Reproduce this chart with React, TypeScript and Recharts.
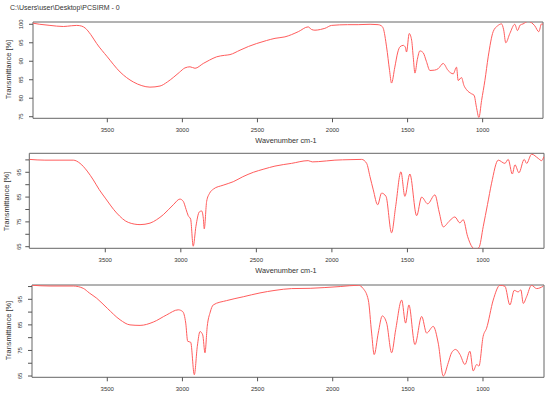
import React from 'react';
import { LineChart, Line, XAxis, YAxis, ReferenceArea } from 'recharts';

const FONT = '"Liberation Sans", Arial, Helvetica, sans-serif';

// Panel 1 (top spectrum)
const waveP1 = [3995, 3950, 3882, 3793, 3740, 3704, 3670, 3648, 3610, 3571, 3500, 3415, 3327, 3270, 3216, 3149, 3100, 3061, 3020, 2983, 2949, 2916, 2861, 2820, 2772, 2720, 2683, 2616, 2560, 2505, 2440, 2383, 2317, 2228, 2162, 2140, 2117, 2080, 2051, 2006, 1900, 1829, 1750, 1696, 1675, 1662, 1640, 1620, 1607, 1585, 1565, 1551, 1529, 1515, 1507, 1489, 1473, 1462, 1451, 1435, 1418, 1396, 1375, 1351, 1320, 1296, 1263, 1230, 1196, 1174, 1163, 1141, 1125, 1107, 1074, 1057, 1041, 1025, 1007, 985, 963, 930, 900, 874, 860, 846, 819, 786, 768, 750, 731, 697, 653, 626, 608, 598];
const transP1 = [100.3, 100.0, 99.7, 99.4, 99.6, 99.7, 99.5, 99.0, 97.2, 94.8, 91.2, 87.1, 84.4, 83.4, 83.0, 83.3, 84.4, 85.6, 87.0, 88.2, 88.5, 88.1, 89.4, 90.3, 91.2, 91.6, 91.8, 93.0, 94.0, 94.8, 95.6, 96.2, 96.6, 98.0, 99.3, 98.6, 98.4, 98.6, 98.9, 99.7, 99.9, 99.9, 100.0, 99.9, 99.6, 98.9, 93.9, 87.5, 84.1, 88.4, 92.5, 93.9, 94.3, 93.8, 92.5, 97.5, 95.7, 91.0, 86.8, 90.5, 92.8, 92.3, 90.0, 87.5, 87.6, 88.0, 89.4, 87.5, 86.6, 88.4, 84.8, 85.6, 83.5, 82.3, 81.2, 80.8, 77.5, 74.8, 79.4, 84.8, 91.2, 98.0, 99.6, 100.1, 98.5, 95.0, 97.5, 100.0, 98.3, 99.8, 100.1, 100.8, 99.6, 98.0, 100.1, 100.0];

// Panel 2 (middle spectrum)
const waveP2 = [4003, 3900, 3800, 3712, 3667, 3620, 3579, 3540, 3500, 3425, 3348, 3270, 3204, 3160, 3116, 3050, 3006, 2984, 2965, 2951, 2935, 2918, 2900, 2878, 2862, 2851, 2845, 2829, 2810, 2785, 2720, 2653, 2590, 2520, 2450, 2377, 2267, 2157, 2130, 2090, 1980, 1880, 1803, 1770, 1748, 1726, 1697, 1671, 1642, 1605, 1578, 1543, 1517, 1484, 1439, 1406, 1366, 1318, 1290, 1263, 1220, 1186, 1153, 1131, 1102, 1071, 1050, 1027, 998, 970, 943, 899, 855, 833, 806, 788, 762, 727, 711, 678, 634, 612, 597];
const transP2 = [100.2, 99.9, 99.9, 99.9, 98.6, 95.5, 91.9, 88.0, 84.6, 78.6, 74.8, 73.9, 74.5, 75.9, 77.9, 81.9, 84.2, 83.3, 80.0, 77.5, 76.1, 65.2, 73.2, 79.0, 79.4, 76.4, 72.2, 83.3, 86.5, 88.2, 89.8, 91.2, 93.2, 95.0, 96.3, 97.5, 98.6, 99.7, 99.2, 99.3, 99.9, 100.1, 100.2, 98.6, 93.3, 87.9, 81.9, 86.6, 85.3, 70.6, 81.2, 95.2, 85.3, 94.3, 77.5, 85.0, 82.3, 85.9, 79.0, 73.0, 75.5, 77.0, 74.6, 75.9, 69.2, 64.8, 64.0, 64.6, 73.2, 82.0, 90.6, 99.9, 98.6, 100.2, 94.3, 98.0, 94.8, 100.2, 98.6, 102.3, 100.6, 99.7, 101.3];

// Panel 3 (bottom spectrum)
const waveP3 = [4001, 3881, 3726, 3660, 3620, 3570, 3500, 3415, 3349, 3282, 3194, 3105, 3028, 2998, 2978, 2965, 2945, 2921, 2901, 2883, 2865, 2850, 2835, 2815, 2795, 2706, 2595, 2484, 2384, 2273, 2150, 2052, 1950, 1830, 1797, 1763, 1741, 1724, 1697, 1670, 1641, 1608, 1581, 1541, 1515, 1493, 1453, 1408, 1375, 1331, 1298, 1264, 1231, 1209, 1182, 1153, 1120, 1087, 1065, 1042, 1027, 999, 976, 932, 887, 854, 821, 792, 766, 748, 732, 710, 677, 643, 599];
const transP3 = [100.5, 100.2, 100.2, 99.3, 97.5, 95.4, 91.5, 87.0, 85.0, 84.8, 86.1, 88.9, 90.9, 90.2, 85.7, 78.6, 78.2, 65.5, 76.6, 82.4, 81.1, 74.1, 84.4, 90.0, 92.8, 94.5, 96.0, 97.5, 98.5, 99.2, 99.3, 99.6, 100.0, 100.5, 99.2, 94.7, 81.8, 73.4, 81.8, 88.5, 85.7, 74.1, 83.1, 94.7, 85.7, 92.8, 77.3, 88.3, 81.8, 84.4, 77.9, 65.0, 70.2, 74.1, 75.4, 73.4, 69.5, 74.7, 67.0, 69.5, 68.9, 80.5, 83.7, 94.7, 100.5, 100.1, 92.8, 98.5, 97.9, 98.7, 93.4, 96.0, 100.5, 99.2, 100.1];

const xTicks = [3500, 3000, 2500, 2000, 1500, 1000];
const yTicksP1 = [75, 80, 85, 90, 95, 100];
const yTicksP23 = [65, 70, 75, 80, 85, 90, 95, 100];
const yLabelsP23 = [65, 75, 85, 95];

const headerText = 'C:\\Users\\user\\Desktop\\PCSIRM - 0';
const xTitle = 'Wavenumber cm-1';
const yTitle = 'Transmittance [%]';

const LINE_COLOR = '#ff5c5c';
const BOX_COLOR = '#666666';
const TEXT_COLOR = '#333333';

function makeRows(w: number[], t: number[]) {
  return w.map((x, i) => ({ w: x, t: t[i] }));
}

const XTick = (props: any) => {
  const { x, y, payload } = props;
  return (
    <text x={x} y={y + 10} textAnchor="middle" fontSize={6} fill={TEXT_COLOR} fontFamily={FONT}>
      {payload.value}
    </text>
  );
};

const makeYTick = (labels: number[] | null, offset: number) => (props: any) => {
  const { x, y, payload } = props;
  if (labels && !labels.includes(payload.value)) return <g />;
  const bx = x - offset;
  return (
    <text
      x={bx}
      y={y}
      transform={`rotate(-90 ${bx} ${y})`}
      textAnchor="middle"
      fontSize={6}
      fill={TEXT_COLOR}
      fontFamily={FONT}
    >
      {payload.value}
    </text>
  );
};

type PanelProps = {
  top: number;
  height: number;
  rows: { w: number; t: number }[];
  xDomain: [number, number];
  yDomain: [number, number];
  yTicks: number[];
  yLabels: number[] | null;
  marginTop: number;
  marginRight: number;
  yWidth: number;
  xHeight: number;
  yLabelOffset: number;
};

function Panel(p: PanelProps) {
  return (
    <div style={{ position: 'absolute', left: 0, top: p.top, width: 550, height: p.height }}>
      <LineChart
        width={550}
        height={p.height}
        data={p.rows}
        margin={{ top: p.marginTop, right: p.marginRight, bottom: 0, left: 0 }}
      >
        <XAxis
          dataKey="w"
          type="number"
          domain={p.xDomain}
          reversed
          allowDataOverflow
          ticks={xTicks}
          interval={0}
          height={p.xHeight}
          tickSize={4}
          tickMargin={0}
          axisLine={false}
          tickLine={{ stroke: '#555555' }}
          tick={XTick}
        />
        <YAxis
          type="number"
          domain={p.yDomain}
          allowDataOverflow
          ticks={p.yTicks}
          interval={0}
          width={p.yWidth}
          tickSize={4}
          tickMargin={0}
          axisLine={false}
          tickLine={{ stroke: '#555555' }}
          tick={makeYTick(p.yLabels, p.yLabelOffset)}
        />
        <Line
          dataKey="t"
          type="monotone"
          stroke={LINE_COLOR}
          strokeWidth={1}
          dot={false}
          activeDot={false}
          isAnimationActive={false}
        />
        <ReferenceArea
          x1={p.xDomain[1]}
          x2={p.xDomain[0]}
          y1={p.yDomain[0]}
          y2={p.yDomain[1]}
          fill="none"
          fillOpacity={0}
          stroke={BOX_COLOR}
          strokeWidth={1}
          ifOverflow="visible"
        />
      </LineChart>
    </div>
  );
}

export default function App() {
  const rows1 = makeRows(waveP1, transP1);
  const rows2 = makeRows(waveP2, transP2);
  const rows3 = makeRows(waveP3, transP3);
  return (
    <div style={{ position: 'absolute', left: 0, top: 0, width: 550, height: 398, background: '#ffffff', overflow: 'hidden' }}>
      <Panel
        top={0}
        height={146}
        rows={rows1}
        xDomain={[598, 3995]}
        yDomain={[74.57, 100.62]}
        yTicks={yTicksP1}
        yLabels={null}
        marginTop={22}
        marginRight={7}
        yWidth={33}
        xHeight={27.7}
        yLabelOffset={5.9}
      />
      <Panel
        top={146}
        height={130}
        rows={rows2}
        xDomain={[596, 4003]}
        yDomain={[64.35, 102.66]}
        yTicks={yTicksP23}
        yLabels={yLabelsP23}
        marginTop={7.3}
        marginRight={6}
        yWidth={29.3}
        xHeight={27.7}
        yLabelOffset={4.2}
      />
      <Panel
        top={276}
        height={122}
        rows={rows3}
        xDomain={[594, 4001]}
        yDomain={[64.5, 100.6]}
        yTicks={yTicksP23}
        yLabels={yLabelsP23}
        marginTop={9}
        marginRight={6}
        yWidth={32}
        xHeight={20.7}
        yLabelOffset={5.9}
      />
      <svg
        width={550}
        height={398}
        style={{ position: 'absolute', left: 0, top: 0, pointerEvents: 'none' }}
        fontFamily={FONT}
        fill={TEXT_COLOR}
      >
        <text x={10} y={10} fontSize={7}>{headerText}</text>
        <text x={286} y={143.1} fontSize={7.3} textAnchor="middle">{xTitle}</text>
        <text x={286} y={273.1} fontSize={7.3} textAnchor="middle">{xTitle}</text>
        <text x={10.9} y={69.5} fontSize={7.4} textAnchor="middle" transform="rotate(-90 10.9 69.5)">{yTitle}</text>
        <text x={9.3} y={201.5} fontSize={7.4} textAnchor="middle" transform="rotate(-90 9.3 201.5)">{yTitle}</text>
        <text x={10.9} y={330.5} fontSize={7.4} textAnchor="middle" transform="rotate(-90 10.9 330.5)">{yTitle}</text>
      </svg>
    </div>
  );
}
